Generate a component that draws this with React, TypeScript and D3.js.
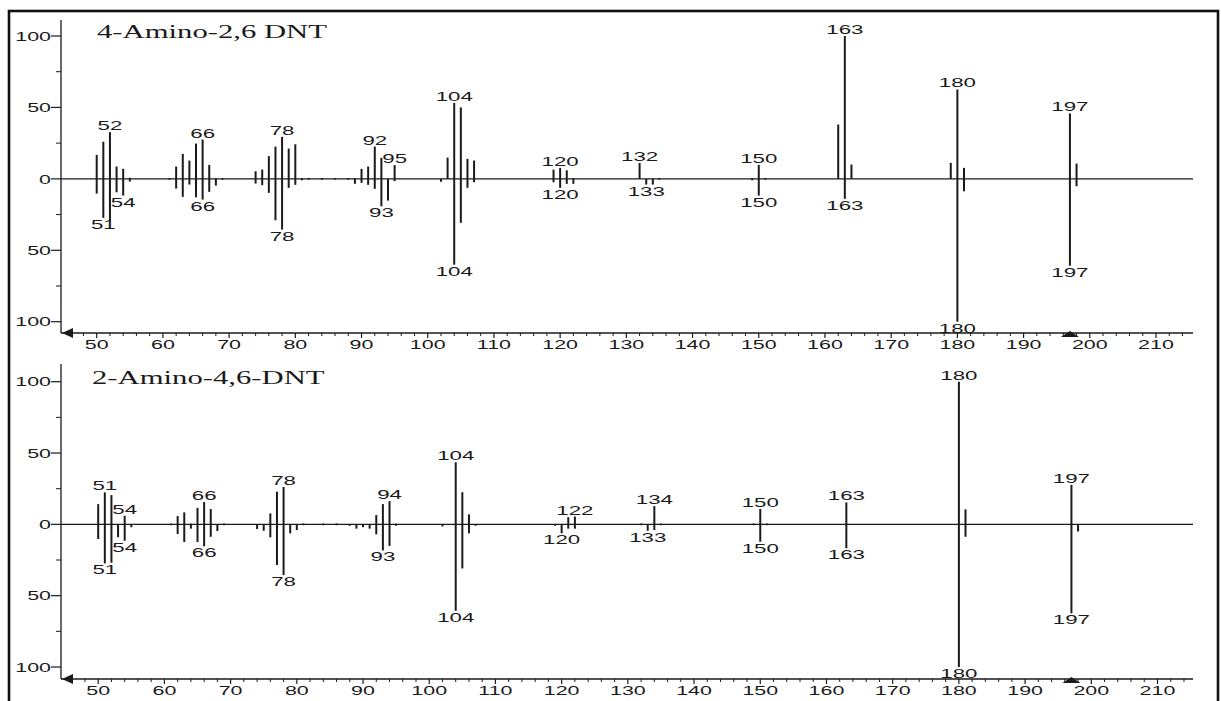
import React from 'react';
import * as d3 from 'd3';

const W = 1221;
const H = 701;

// Upper panel: 4-Amino-2,6 DNT (measured spectrum up, library spectrum down)
const topTitle = '4-Amino-2,6 DNT';
const topMz = [50, 51, 52, 53, 54, 55, 61, 62, 63, 64, 65, 66, 67, 68, 69, 74, 75, 76, 77, 78, 79, 80, 81, 82, 84, 86, 88, 89, 90, 91, 92, 93, 94, 95, 102, 103, 104, 105, 106, 107, 119, 120, 121, 122, 132, 133, 134, 135, 149, 150, 151, 162, 163, 164, 179, 180, 181, 197, 198];
const topUpper = [16.8, 26, 32.7, 8.6, 7, 0.8, 0.6, 8.6, 17.5, 12.8, 24.7, 27.5, 9.8, 0.5, 0.6, 5.3, 6.5, 15.9, 22.6, 29.4, 21.2, 24.2, 0.6, 0.6, 0.6, 0.6, 0.6, 0.5, 7, 8.6, 22.6, 14.7, 0, 9.6, 0, 14.9, 53.2, 50, 14, 12.8, 6.5, 7.7, 6, 0.5, 11.2, 0, 0, 0.6, 0.6, 9.8, 0.6, 38, 100, 10, 11.2, 62.6, 7.7, 45.8, 10.7];
const topLower = [-10.3, -27.3, -29.7, -9.4, -11.7, -1.9, -0.6, -6.8, -12.6, -4, -12.9, -14.5, -9.1, -4.7, -0.6, -3.3, -4.4, -9.8, -29, -35.5, -6.3, -4.2, -1, -0.6, -0.6, -0.6, -0.6, -3.5, -2.8, -4.2, -7, -19.2, -15.2, -1.6, -2, 0, -60.1, -30.8, -6.3, -2.4, -2.4, -6.3, -3.5, -3.5, 0, -4, -4, -0.6, -1, -11.7, -0.6, 0, -14, 0, 0, -100, -8.7, -60.8, -5.2];
const topUpperLabels = [52, 66, 78, 92, 95, 104, 120, 132, 150, 163, 180, 197];
const topLowerLabels = [51, 54, 66, 78, 93, 104, 120, 133, 150, 163, 180, 197];

// Lower panel: 2-Amino-4,6-DNT
const bottomTitle = '2-Amino-4,6-DNT';
const bottomMz = [50, 51, 52, 53, 54, 55, 61, 62, 63, 64, 65, 66, 67, 68, 69, 74, 75, 76, 77, 78, 79, 80, 81, 84, 86, 88, 89, 90, 91, 92, 93, 94, 95, 102, 104, 105, 106, 107, 119, 120, 121, 122, 132, 133, 134, 135, 149, 150, 151, 163, 180, 181, 197, 198];
const bottomUpper = [14.2, 22.4, 20.5, 0, 6, 0, 0.6, 5.8, 8.4, 0.5, 11.6, 15.6, 10.7, 0, 0.6, 0, 0, 7.7, 22.9, 26.2, 0, 0, 0.6, 0.6, 0.6, 0, 0, 0, 0, 6.5, 14.2, 16.3, 0.5, 0, 43.5, 22.5, 7, 0, 0, 0, 5, 5.5, 0.6, 0, 12.8, 0.6, 0.6, 10.8, 0.6, 15.4, 100, 10.5, 27.6, 0];
const bottomLower = [-10.3, -27.4, -26.9, -9, -11.5, -2, -0.6, -6.8, -12.4, -3, -12.4, -15.4, -8.7, -4.7, -0.6, -3.3, -4.5, -9.1, -28.5, -35.6, -6.3, -4, -0.6, -0.6, -0.6, -1, -3, -2, -3, -7, -18.3, -15.1, -1, -1.5, -60.6, -30.9, -6.3, -1, -1, -6.3, -3, -3, -0.6, -4.5, -4, -0.6, -0.6, -12.2, -0.6, -16.8, -100, -8.7, -62.4, -5];
const bottomUpperLabels = [51, 54, 66, 78, 94, 104, 122, 134, 150, 163, 180, 197];
const bottomLowerLabels = [51, 54, 66, 78, 93, 104, 120, 133, 150, 163, 180, 197];

// Axis ticks
const xTicks = d3.range(50, 211, 10);
const xMinorTicks = d3.range(46, 215, 2).filter((v) => v % 10 !== 0);
const yTicks = [100, 50, 0, -50, -100];
const yMinorTicks = [75, 25, -25, -75];
const markerMz = 197;

const SANS = "'Liberation Sans', Arial, sans-serif";
const SERIF = "'Liberation Serif', 'Times New Roman', serif";
const SX = 1.65;
const INK = '#1a1a1a';

type STextProps = {
  x: number;
  y: number;
  anchor?: 'start' | 'middle' | 'end';
  size?: number;
  family?: string;
  dy?: string;
  children: React.ReactNode;
};

const SText = ({ x, y, anchor = 'middle', size = 13.5, family = SANS, dy, children }: STextProps) => (
  <text
    transform={`translate(${x},${y}) scale(${SX},1)`}
    textAnchor={anchor}
    fontSize={size}
    fontFamily={family}
    fill={INK}
    dy={dy}
  >
    {children}
  </text>
);

type PanelProps = {
  title: string;
  titleX: number;
  titleY: number;
  mz: number[];
  upper: number[];
  lower: number[];
  upperLabels: number[];
  lowerLabels: number[];
  axisTop: number;
  y100: number;
  yM100: number;
  xAxisY: number;
  xRange: [number, number];
};

const AXIS_X = 61;
const AXIS_RIGHT = 1193;

const Panel = (p: PanelProps) => {
  const x = d3.scaleLinear().domain([50, 210]).range(p.xRange);
  const y = d3.scaleLinear().domain([-100, 100]).range([p.yM100, p.y100]);
  const y0 = y(0);
  const idx = (m: number) => p.mz.indexOf(m);
  const mx = x(markerMz);

  return (
    <g>
      {/* zero baseline */}
      <line x1={AXIS_X} x2={AXIS_RIGHT} y1={y0} y2={y0} stroke={INK} strokeWidth={1.2} />

      {/* y axis */}
      <line x1={AXIS_X} x2={AXIS_X} y1={p.axisTop} y2={p.xAxisY} stroke={INK} strokeWidth={1.3} />
      {yTicks.map((t) => (
        <g key={`yt${t}`}>
          <line x1={AXIS_X - 10} x2={AXIS_X} y1={y(t)} y2={y(t)} stroke={INK} strokeWidth={1.2} />
          <SText x={AXIS_X - 10} y={y(t)} anchor="end" size={13} dy="0.36em">
            {Math.abs(t)}
          </SText>
        </g>
      ))}
      {yMinorTicks.map((t) => (
        <line key={`ym${t}`} x1={AXIS_X - 5} x2={AXIS_X} y1={y(t)} y2={y(t)} stroke={INK} strokeWidth={1} />
      ))}

      {/* x axis */}
      <line x1={AXIS_X} x2={AXIS_RIGHT} y1={p.xAxisY} y2={p.xAxisY} stroke={INK} strokeWidth={1.3} />
      {xTicks.map((t) => (
        <g key={`xt${t}`}>
          <line x1={x(t)} x2={x(t)} y1={p.xAxisY} y2={p.xAxisY + 5} stroke={INK} strokeWidth={1.2} />
          <SText x={x(t)} y={p.xAxisY + 15.5} size={13}>
            {t}
          </SText>
        </g>
      ))}
      {xMinorTicks
        .filter((t) => x(t) > AXIS_X + 2 && x(t) < AXIS_RIGHT)
        .map((t) => (
          <line key={`xm${t}`} x1={x(t)} x2={x(t)} y1={p.xAxisY} y2={p.xAxisY + 3} stroke={INK} strokeWidth={1} />
        ))}
      <path
        d={`M${AXIS_X + 1},${p.xAxisY} L${AXIS_X + 12},${p.xAxisY - 5} L${AXIS_X + 12},${p.xAxisY + 5} Z`}
        fill={INK}
      />
      <path d={`M${mx},${p.xAxisY - 2} L${mx + 9},${p.xAxisY + 4} L${mx - 9},${p.xAxisY + 4} Z`} fill={INK} />

      {/* peaks */}
      {p.mz.map((m, i) => (
        <g key={`pk${m}`}>
          {p.upper[i] > 0 && (
            <line x1={x(m)} x2={x(m)} y1={y0} y2={y(p.upper[i])} stroke={INK} strokeWidth={2} />
          )}
          {p.lower[i] < 0 && (
            <line x1={x(m)} x2={x(m)} y1={y0} y2={y(p.lower[i])} stroke={INK} strokeWidth={2} />
          )}
        </g>
      ))}

      {/* peak labels */}
      {p.upperLabels.map((m) => (
        <SText key={`ul${m}`} x={x(m)} y={y(p.upper[idx(m)]) - 2}>
          {m}
        </SText>
      ))}
      {p.lowerLabels.map((m) => (
        <SText key={`ll${m}`} x={x(m)} y={y(p.lower[idx(m)]) + 11}>
          {m}
        </SText>
      ))}

      <SText x={p.titleX} y={p.titleY} anchor="start" size={18.6} family={SERIF}>
        {p.title}
      </SText>
    </g>
  );
};

export default function App() {
  return (
    <svg
      width={W}
      height={H}
      style={{ position: 'absolute', left: 0, top: 0, background: '#fff' }}
    >
      <rect x={0} y={0} width={W} height={H} fill="#fff" />
      <rect x={9} y={11} width={1209} height={720} fill="none" stroke="#111" strokeWidth={2.6} />
      <Panel
        title={topTitle}
        titleX={97}
        titleY={37.5}
        mz={topMz}
        upper={topUpper}
        lower={topLower}
        upperLabels={topUpperLabels}
        lowerLabels={topLowerLabels}
        axisTop={20}
        y100={36}
        yM100={321.7}
        xAxisY={333}
        xRange={[96.7, 1156]}
      />
      <Panel
        title={bottomTitle}
        titleX={92}
        titleY={384}
        mz={bottomMz}
        upper={bottomUpper}
        lower={bottomLower}
        upperLabels={bottomUpperLabels}
        lowerLabels={bottomLowerLabels}
        axisTop={364}
        y100={381.7}
        yM100={667}
        xAxisY={679}
        xRange={[98.2, 1157.5]}
      />
    </svg>
  );
}
